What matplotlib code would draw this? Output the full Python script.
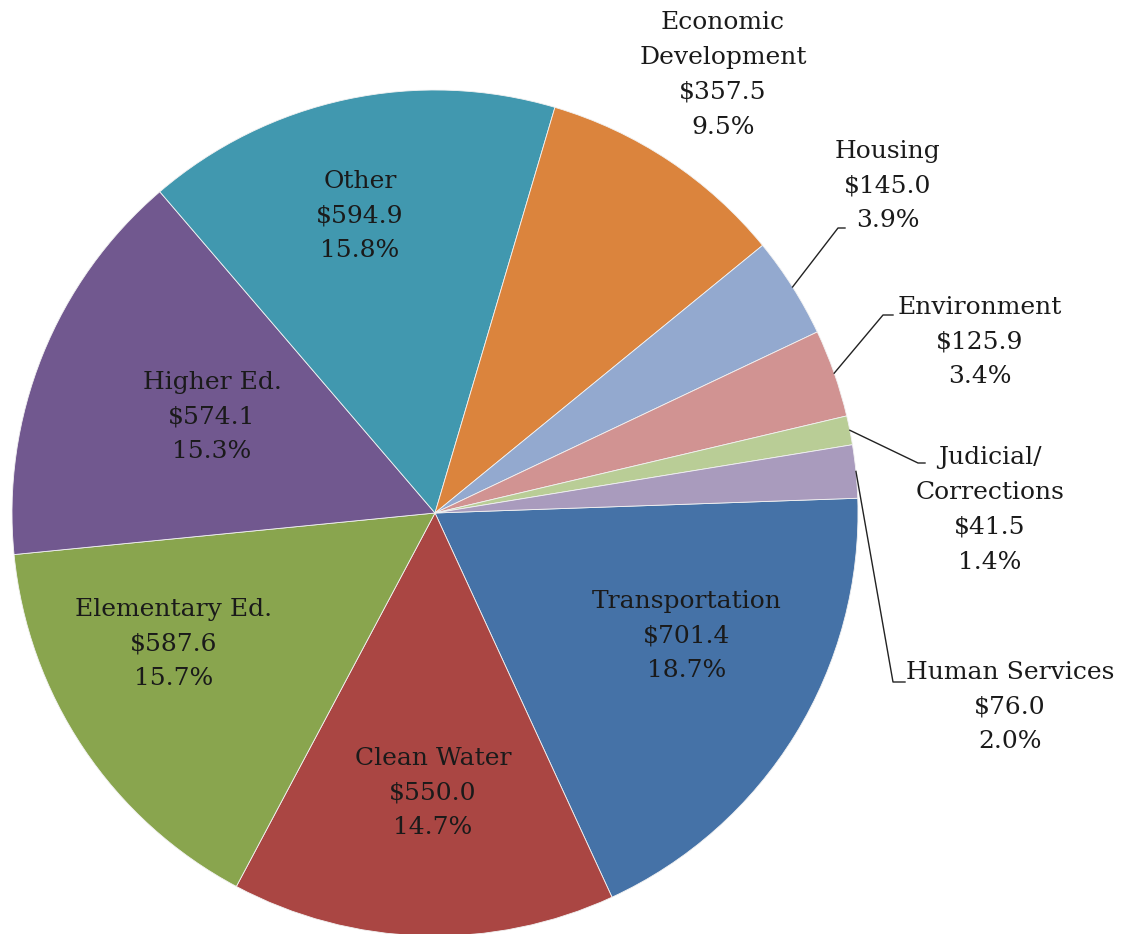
"""Pie chart of spending by category (amounts in $ millions)."""

import matplotlib

matplotlib.use("Agg")
import matplotlib.pyplot as plt
import numpy as np

W, H = 1133, 934

# data, clockwise from Transportation
categories = [
    "Transportation", "Clean Water", "Elementary Ed.", "Higher Ed.", "Other",
    "Economic\nDevelopment", "Housing", "Environment", "Judicial/\nCorrections",
    "Human Services",
]
amounts = [701.4, 550.0, 587.6, 574.1, 594.9, 357.5, 145.0, 125.9, 41.5, 76.0]
pct_labels = ["18.7%", "14.7%", "15.7%", "15.3%", "15.8%", "9.5%", "3.9%", "3.4%", "1.4%", "2.0%"]
colors = [
    "#4572A7", "#AA4643", "#89A54E", "#71588F", "#4198AF",
    "#DB843D", "#93A9CF", "#D19392", "#B9CD96", "#A99BBD",
]

# layout in image pixels (x right, y down)
CENTER = (435, 513)
RADIUS = 423
START = 2
# label centre positions; elbow of the leader line for outside labels (None = inside)
label_pos = [
    (687, 636), (433, 793), (174, 644), (212, 417), (360, 216),
    (723, 75), (888, 186), (980, 342), (990, 510), (1010, 707),
]
elbows = [None, None, None, None, None, None, (838, 228), (883, 315), (918, 463), (893, 682)]
text_left = [None, None, None, None, None, None, 845, 893, 925, 905]

plt.rcParams["font.family"] = ["DejaVu Serif"]

fig = plt.figure(figsize=(W / 100, H / 100), dpi=100)
ax = fig.add_axes([0, 0, 1, 1])
ax.set_xlim(0, W)
ax.set_ylim(0, H)
ax.set_aspect("equal")
ax.axis("off")

wedges, _ = ax.pie(
    amounts,
    colors=colors,
    startangle=START,
    counterclock=False,
    center=(CENTER[0], H - CENTER[1]),
    radius=RADIUS,
    frame=True,
    wedgeprops=dict(edgecolor="#f2f2f2", linewidth=0.6),
)
ax.axis("off")

for i, w in enumerate(wedges):
    text = f"{categories[i]}\n${amounts[i]:.1f}\n{pct_labels[i]}"
    lx, ly = label_pos[i]
    ax.text(lx, H - ly, text, ha="center", va="center", fontsize=18,
            linespacing=1.65, color="#1a1a1a")
    if elbows[i] is not None:
        mid = np.deg2rad((w.theta1 + w.theta2) / 2)
        ex = CENTER[0] + RADIUS * np.cos(mid)
        ey = H - CENTER[1] + RADIUS * np.sin(mid)
        bx, by = elbows[i]
        ax.plot([ex, bx, text_left[i]], [ey, H - by, H - by], color="#222222", lw=1.0)

fig.savefig("out.png", dpi=100)
